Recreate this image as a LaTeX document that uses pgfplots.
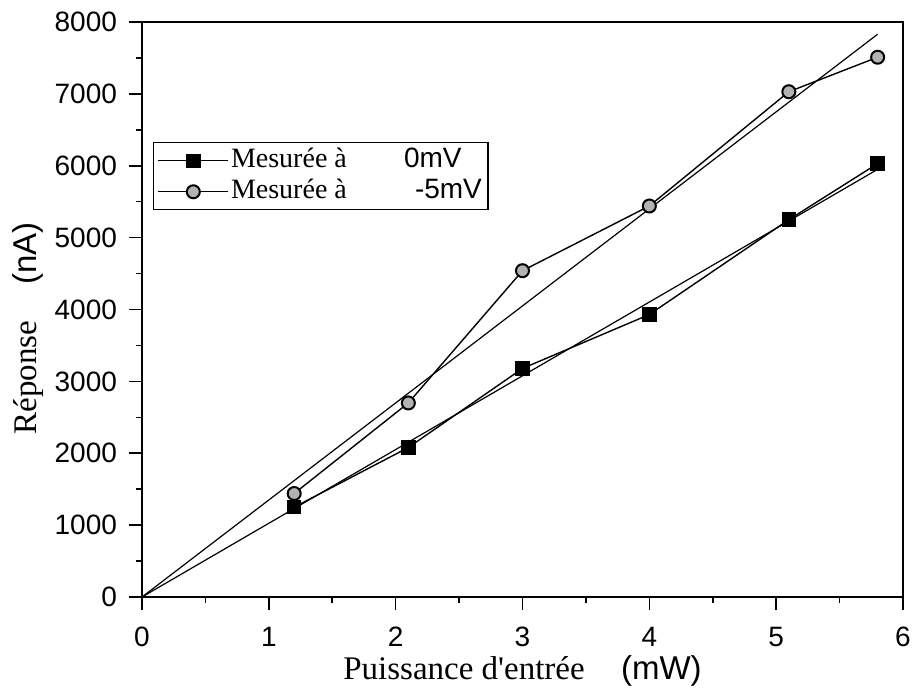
\documentclass[border=0pt]{standalone}
\usepackage{fontspec}
\setmainfont{Liberation Serif}[Ligatures=TeXOff]
\setsansfont{Liberation Sans}
\usepackage{pgfplots}
\pgfplotsset{compat=1.18}
\begin{document}
\begin{tikzpicture}
\begin{pgfinterruptboundingbox}
\begin{axis}[
  name=ax,
  scale only axis, width=380.5pt, height=287.5pt,
  xmin=0, xmax=6, ymin=0, ymax=8000,
  xtick={0,1,...,6}, ytick={0,1000,...,8000},
  minor x tick num=1, minor y tick num=1,
  tick align=outside, xtick pos=left, ytick pos=left,
  major tick length=6.5pt, minor tick length=3pt,
  every tick/.style={black, line width=0.8pt},
  axis line style={line width=0.8pt},
  tick label style={font=\fontsize{14}{16}\sffamily},
  xticklabel style={yshift=-5pt},
  yticklabel style={xshift=-2.5pt, /pgf/number format/1000 sep={}},
  /pgf/number format/assume math mode=true,
  scaled y ticks=false,
  xlabel={Puissance d'entrée\hspace{1.1em}{\sffamily (mW)}},
  ylabel={Réponse\hspace{1.1em}{\sffamily (nA)}},
  label style={font=\fontsize{16.5}{18}\selectfont},
  xlabel style={at={(rel axis cs:0.5,0)}, anchor=base, yshift=-41pt},
  ylabel style={at={(ticklabel cs:0.467)}, anchor=near ticklabel,
    inner ysep=6.5pt, yshift=-4.4pt},
  legend style={at={(rel axis cs:0.0145,0.791)}, anchor=north west,
    draw=black, line width=0.6pt, inner sep=2pt,
    font=\fontsize{14}{16}\selectfont, row sep=1.5pt,
    nodes={inner sep=1pt, text height=9.5pt, text depth=2.5pt}},
  legend cell align=left,
  legend image code/.code={\draw[mark repeat=2, mark phase=2, #1]
    plot coordinates {(0pt,0pt) (17.5pt,0pt) (35pt,0pt)};},
]
\addplot[black, line width=0.7pt, mark=square*, mark size=3.25pt]
  coordinates {(1.2,1250) (2.1,2080) (3.0,3180) (4.0,3930) (5.1,5250) (5.8,6030)};
\addlegendentry{\makebox[86.5pt][l]{Mesurée à}{\sffamily 0mV}}
\addplot[black, line width=0.7pt, mark=*, mark size=3.25pt,
  mark options={fill=gray!60, draw=black, line width=1pt}]
  coordinates {(1.2,1440) (2.1,2700) (3.0,4540) (4.0,5440) (5.1,7030) (5.8,7510)};
\addlegendentry{\makebox[92pt][l]{Mesurée à}{\sffamily -5mV}\hspace{2pt}}
\addplot[black, line width=0.6pt, forget plot] coordinates {(0,0) (5.8,5950)};
\addplot[black, line width=0.6pt, forget plot] coordinates {(0,0) (5.8,7830)};
\end{axis}
\end{pgfinterruptboundingbox}
% page size: same margins round the axis box as the reference
\path ([shift={(-71pt,-47.5pt)}]ax.south west) rectangle ([shift={(5.5pt,11pt)}]ax.north east);
\end{tikzpicture}
\end{document}
